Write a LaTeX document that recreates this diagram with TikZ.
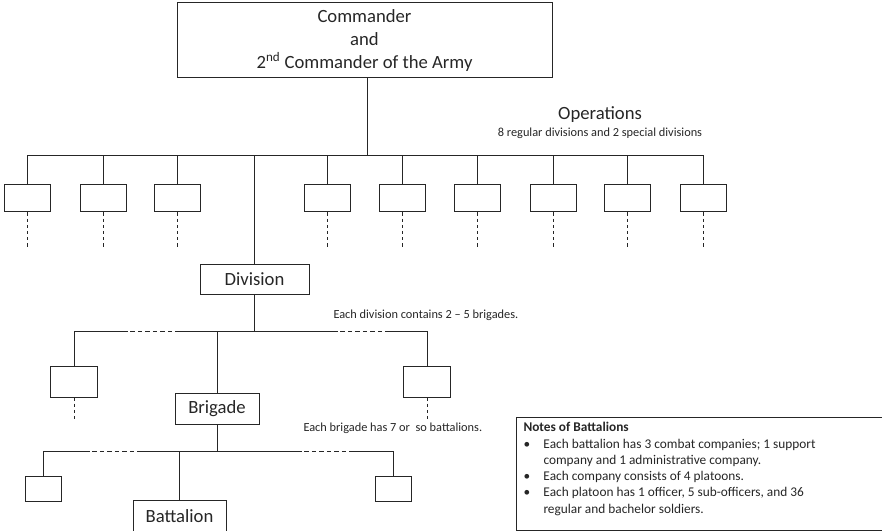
\documentclass[tikz,border=0pt]{standalone}
\usepackage{fontspec}
\setmainfont{Carlito}
\usetikzlibrary{calc}

\begin{document}
\begin{tikzpicture}[x=0.75pt,y=0.75pt,yscale=-1,xscale=1,
  color=black!85, line width=0.75pt,
  headbox/.style={draw, inner sep=0pt, align=center, font=\fontsize{14}{17.25}\selectfont},
  unitbox/.style={draw, inner sep=0pt, minimum height=23.25pt, font=\fontsize{14}{17}\selectfont},
  blankbox/.style={draw, inner sep=0pt, minimum width=34.5pt, minimum height=20.25pt},
  bigtext/.style={inner sep=0pt, font=\fontsize{14}{17}\selectfont},
  smalltext/.style={inner sep=0pt, font=\fontsize{9.25}{11}\selectfont},
  busdash/.style={dash pattern={on 3.4pt off 2.2pt}},
  tickdash/.style={dash pattern={on 2.6pt off 2pt}, line width=0.6pt}]
\useasboundingbox (0,0) rectangle (882,531);

% Head of the Army
\node [headbox, minimum width=281.25pt, minimum height=56.25pt] (cmd) at (364.5,40.5)
  {Commander\\and\\2\textsuperscript{nd} Commander of the Army};

% Text Node
\node [bigtext] (ops) at (600,115) {Operations};
% Text Node
\node [smalltext] (opsnote) at (600,133) {8 regular divisions and 2 special divisions};

%Operations bus
\coordinate (opsbus) at (367,156);
\draw (cmd.south -| opsbus) -- (opsbus);

%Flowchart: Process (divisions)
\node [blankbox] (dv1) at (27,198.5) {};
\node [blankbox] (dv2) at (103,198.5) {};
\node [blankbox] (dv3) at (177,198.5) {};
\node [blankbox] (dv4) at (327,198.5) {};
\node [blankbox] (dv5) at (402,198.5) {};
\node [blankbox] (dv6) at (477,198.5) {};
\node [blankbox] (dv7) at (553,198.5) {};
\node [blankbox] (dv8) at (627,198.5) {};
\node [blankbox] (dv9) at (703,198.5) {};

%Straight Lines
\draw (dv1.north) |- (dv9.north |- opsbus) -- (dv9.north);
\draw (dv2.north) -- (dv2.north |- opsbus);
\draw (dv3.north) -- (dv3.north |- opsbus);
\draw (dv4.north) -- (dv4.north |- opsbus);
\draw (dv5.north) -- (dv5.north |- opsbus);
\draw (dv6.north) -- (dv6.north |- opsbus);
\draw (dv7.north) -- (dv7.north |- opsbus);
\draw (dv8.north) -- (dv8.north |- opsbus);

%Dashed Lines
\draw [tickdash] (dv1.south) -- ++(0,36);
\draw [tickdash] (dv2.south) -- ++(0,36);
\draw [tickdash] (dv3.south) -- ++(0,36);
\draw [tickdash] (dv4.south) -- ++(0,36);
\draw [tickdash] (dv5.south) -- ++(0,36);
\draw [tickdash] (dv6.south) -- ++(0,36);
\draw [tickdash] (dv7.south) -- ++(0,36);
\draw [tickdash] (dv8.south) -- ++(0,36);
\draw [tickdash] (dv9.south) -- ++(0,36);

% Division
\node [unitbox, minimum width=81.75pt, minimum height=22.5pt] (div) at (254.5,279) {Division};
\draw (div.north) -- (div.north |- opsbus);

% Text Node
\node [smalltext, anchor=west] (divnote) at (333,315) {Each division contains 2 -- 5 brigades.};

%Flowchart: Process (brigades)
\node [blankbox, minimum width=35.25pt, minimum height=23.25pt] (bgL) at (74,381.5) {};
\node [blankbox, minimum width=35.25pt, minimum height=23.25pt] (bgR) at (427,381.5) {};
\node [unitbox, minimum width=63pt] (brg) at (217,408.5) {Brigade};

%Division bus
\coordinate (divbus) at (254.5,331);
\coordinate (dvA) at (123,331);
\coordinate (dvB) at (177,331);
\coordinate (dvC) at (333,331);
\coordinate (dvD) at (388,331);
\draw (div.south) -- (divbus);
\draw (bgL.north) |- (dvA);
\draw [busdash] (dvA) -- (dvB);
\draw (dvB) -- (dvC);
\draw [busdash] (dvC) -- (dvD);
\draw (dvD) -| (bgR.north);
\draw (brg.north) -- (brg.north |- divbus);
\draw [tickdash] (bgL.south) -- ++(0,24);
\draw [tickdash] (bgR.south) -- ++(0,24);

% Text Node
\node [smalltext, anchor=west] (brgnote) at (303,428) {Each brigade has 7 or\ \ so battalions.};

%Flowchart: Process (battalions)
\node [blankbox, minimum width=27pt, minimum height=18.75pt] (btL) at (43,488.5) {};
\node [blankbox, minimum width=27pt, minimum height=18.75pt] (btR) at (393.5,489) {};
\node [unitbox, minimum width=69.75pt, minimum height=24pt] (btn) at (179.5,516) {Battalion};

%Brigade bus
\coordinate (brgbus) at (217,451);
\coordinate (bgA) at (85,451);
\coordinate (bgB) at (142,451);
\coordinate (bgC) at (297,451);
\coordinate (bgD) at (353,451);
\draw (brg.south) -- (brgbus);
\draw (btL.north) |- (bgA);
\draw [busdash] (bgA) -- (bgB);
\draw (bgB) -- (bgC);
\draw [busdash] (bgC) -- (bgD);
\draw (bgD) -| (btR.north);
\draw (btn.north) -- (btn.north |- brgbus);

% Notes
\node [draw, inner sep=0pt, anchor=north west, minimum width=277.5pt, minimum height=84.75pt] (notes) at (516,417) {};
\node [inner sep=0pt, anchor=north west, font=\fontsize{10}{12.2}\selectfont] (notetext) at ($(notes.north west)+(7,3)$)
  {\begin{tabular}{@{}p{15pt}@{}l@{}}
  \multicolumn{2}{@{}l}{\textbf{Notes of Battalions}}\\
  \textbullet & Each battalion has 3 combat companies; 1 support\\
   & company and 1 administrative company.\\
  \textbullet & Each company consists of 4 platoons.\\
  \textbullet & Each platoon has 1 officer, 5 sub-officers, and 36\\
   & regular and bachelor soldiers.
  \end{tabular}};

\end{tikzpicture}
\end{document}
